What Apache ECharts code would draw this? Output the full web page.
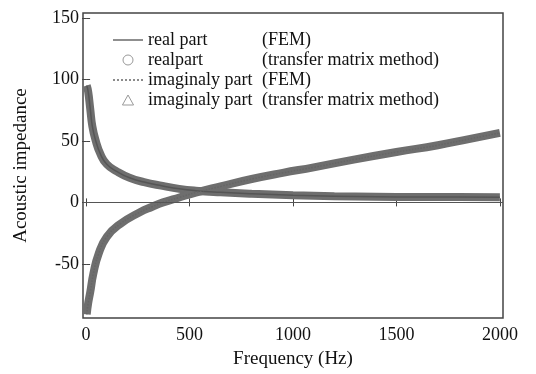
<!DOCTYPE html>
<html>
<head>
<meta charset="utf-8">
<script src="https://cdn.jsdelivr.net/npm/echarts@6/dist/echarts.min.js"></script>
<style>
  html, body { margin: 0; padding: 0; background: #fff; }
  #main { width: 536px; height: 374px; }
</style>
</head>
<body>
<div id="main"></div>
<script>
// values
const realFreq = [3, 10, 20, 30, 45, 70, 100, 150, 210, 280, 370, 450, 530, 650, 800, 1000, 1200, 1400, 1600, 1800, 2000];
const realVals = [95, 90, 76, 62, 51, 39, 31, 25, 20, 16.5, 13.4, 11, 9.5, 8.2, 7, 5.8, 5, 4.6, 4.4, 4.3, 4.2];
const imagFreq = [3, 10, 20, 35, 60, 100, 165, 260, 320, 372, 450, 530, 650, 800, 950, 1100, 1300, 1500, 1700, 1850, 2000];
const imagVals = [-91, -82, -73, -58, -42, -28, -17.5, -8, -3.5, 0, 4, 8, 13, 19, 24, 28.5, 35, 41, 46.5, 51.5, 56.5];
const xTicks = [0, 500, 1000, 1500, 2000];
const yTicks = [-50, 0, 50, 100, 150];

const pairs = (xs, ys) => xs.map((x, i) => [x, ys[i]]);
const FONT = '"Liberation Serif", "DejaVu Serif", serif';
const bandColor = '#6e6e6e';

// legend icons
const solidIcon = 'path://M0,4.4 L30,4.4 L30,5.6 L0,5.6 Z';
const dotIcon = 'path://M0,4.3 h2 v1.4 h-2 Z M4,4.3 h2 v1.4 h-2 Z M8,4.3 h2 v1.4 h-2 Z M12,4.3 h2 v1.4 h-2 Z M16,4.3 h2 v1.4 h-2 Z M20,4.3 h2 v1.4 h-2 Z M24,4.3 h2 v1.4 h-2 Z M28,4.3 h2 v1.4 h-2 Z';
const triIcon = 'path://M5,0 L10,9 L0,9 Z';

const chart = echarts.init(document.getElementById('main'), null, { renderer: 'canvas' });

const rich = {
  a: { width: 114, fontFamily: FONT, fontSize: 18, color: '#111' },
  b: { fontFamily: FONT, fontSize: 18, color: '#111' }
};
const legendText = {
  'real part (FEM)': '{a|real part}{b|(FEM)}',
  'realpart (TMM)': '{a|realpart}{b|(transfer matrix method)}',
  'imaginaly part (FEM)': '{a|imaginaly part}{b|(FEM)}',
  'imaginaly part (TMM)': '{a|imaginaly part}{b|(transfer matrix method)}'
};

const plainNum = v => String(v);

const option = {
  backgroundColor: '#fff',
  animation: false,
  grid: { left: 83, right: 33, top: 13, bottom: 52, show: true, borderColor: '#444', borderWidth: 1.5 },
  legend: {
    orient: 'vertical',
    left: 108,
    top: 26,
    itemWidth: 30,
    itemHeight: 10,
    itemGap: 2,
    symbolKeepAspect: true,
    data: [
      { name: 'real part (FEM)', icon: solidIcon, itemStyle: { color: '#444' } },
      { name: 'realpart (TMM)', icon: 'circle', itemStyle: { color: '#fff', borderColor: '#999', borderWidth: 1 } },
      { name: 'imaginaly part (FEM)', icon: dotIcon, itemStyle: { color: '#666' } },
      { name: 'imaginaly part (TMM)', icon: triIcon, itemStyle: { color: '#fff', borderColor: '#999', borderWidth: 1 } }
    ],
    formatter: name => legendText[name],
    textStyle: { rich: rich }
  },
  xAxis: [{
    type: 'value',
    min: -15,
    max: 2015,
    name: 'Frequency (Hz)',
    nameLocation: 'middle',
    nameGap: 32,
    nameTextStyle: { fontFamily: FONT, fontSize: 19, color: '#111' },
    axisLine: { show: false },
    splitLine: { show: false },
    axisTick: { inside: true, length: 4, lineStyle: { color: '#444' }, customValues: xTicks },
    axisLabel: { customValues: xTicks, formatter: plainNum, fontFamily: FONT, fontSize: 18, color: '#111', margin: 8 }
  }, {
    type: 'value',
    position: 'top',
    min: -15,
    max: 2015,
    axisLine: { show: false },
    splitLine: { show: false },
    axisTick: { inside: true, length: 4, lineStyle: { color: '#444' }, customValues: xTicks },
    axisLabel: { show: false, customValues: xTicks }
  }],
  yAxis: [{
    type: 'value',
    min: -94,
    max: 154,
    name: 'Acoustic impedance',
    nameLocation: 'middle',
    nameGap: 52,
    nameTextStyle: { fontFamily: FONT, fontSize: 19, color: '#111' },
    axisLine: { show: false },
    splitLine: { show: false },
    axisTick: { inside: true, length: 4, lineStyle: { color: '#444' }, customValues: yTicks },
    axisLabel: { customValues: yTicks, formatter: plainNum, fontFamily: FONT, fontSize: 18, color: '#111', margin: 4 }
  }, {
    type: 'value',
    position: 'right',
    min: -94,
    max: 154,
    axisLine: { show: false },
    splitLine: { show: false },
    axisTick: { inside: true, length: 4, lineStyle: { color: '#444' }, customValues: yTicks },
    axisLabel: { show: false, customValues: yTicks }
  }],
  series: [
    {
      name: 'realpart (TMM)',
      type: 'line',
      smooth: true,
      symbol: 'none',
      lineStyle: { color: bandColor, width: 8 },
      itemStyle: { color: bandColor },
      data: pairs(realFreq, realVals),
      z: 2,
      markLine: {
        silent: true,
        symbol: 'none',
        label: { show: false },
        lineStyle: { color: '#555', width: 1.2, type: 'solid' },
        data: [{ yAxis: 0 }]
      }
    },
    {
      name: 'imaginaly part (TMM)',
      type: 'line',
      smooth: true,
      symbol: 'none',
      lineStyle: { color: bandColor, width: 8 },
      itemStyle: { color: bandColor },
      data: pairs(imagFreq, imagVals),
      z: 2
    },
    {
      name: 'real part (FEM)',
      type: 'line',
      smooth: true,
      symbol: 'none',
      lineStyle: { color: '#555', width: 1.5 },
      itemStyle: { color: '#555' },
      data: pairs(realFreq, realVals),
      z: 3
    },
    {
      name: 'imaginaly part (FEM)',
      type: 'line',
      smooth: true,
      symbol: 'none',
      lineStyle: { color: '#666', width: 1.5, type: 'dotted' },
      itemStyle: { color: '#666' },
      data: pairs(imagFreq, imagVals),
      z: 3
    }
  ]
};

chart.setOption(option);
</script>
</body>
</html>
